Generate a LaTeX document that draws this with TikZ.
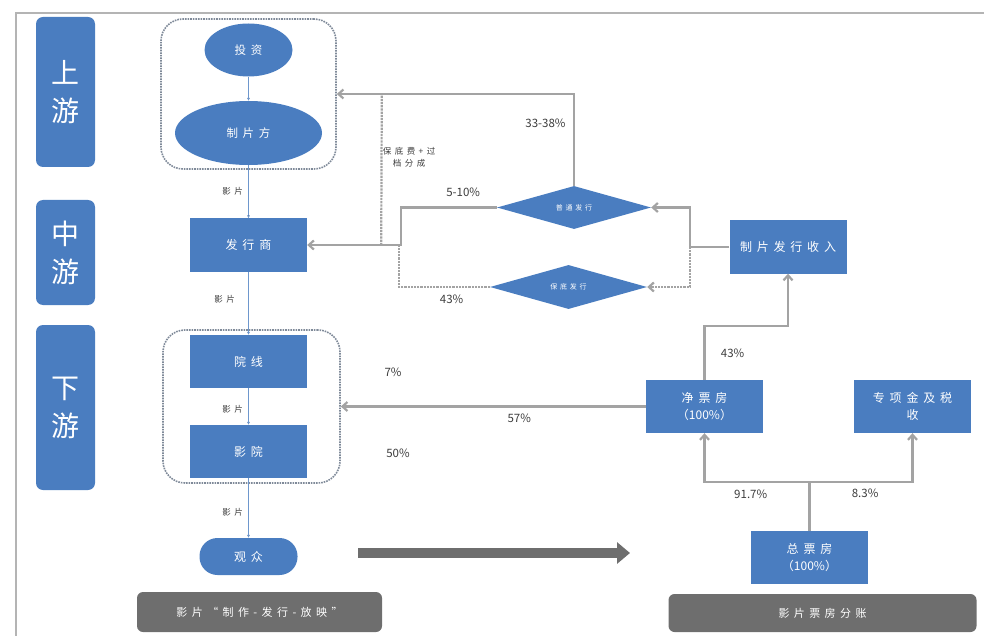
\documentclass[tikz,border=0pt]{standalone}
\usepackage{fontspec}
\setmainfont{Noto Sans CJK SC}
\newfontfamily\spacedfont[LetterSpace=40]{Noto Sans CJK SC}
\usetikzlibrary{arrows.meta,positioning,shapes.geometric}
\definecolor{boxblue}{HTML}{4A7DC0}
\definecolor{linegray}{HTML}{A3A3A3}
\definecolor{bargray}{HTML}{6E6E6E}
\definecolor{framegray}{HTML}{B4B4B4}
\definecolor{groupgray}{HTML}{7F8A99}
\definecolor{labelgray}{HTML}{3C3C3C}
\tikzstyle{stage}=[fill=boxblue, text=white, rounded corners=7pt, minimum width=59pt, align=center, font=\fontsize{28}{38}\selectfont]
\tikzstyle{entity}=[fill=boxblue, text=white, minimum width=117pt, minimum height=53pt, inner sep=0pt, align=center, font=\spacedfont\fontsize{12}{17}\selectfont]
\tikzstyle{oval}=[ellipse, fill=boxblue, text=white, inner sep=0pt, font=\spacedfont\fontsize{11.5}{14}\selectfont]
\tikzstyle{deal}=[diamond, fill=boxblue, text=white, inner sep=0pt, aspect=3.6, font=\spacedfont\fontsize{7}{9}\selectfont]
\tikzstyle{group}=[draw=groupgray, line width=1.6pt, densely dotted, rounded corners=22pt]
\tikzstyle{caption}=[fill=bargray, text=white, rounded corners=6pt, font=\spacedfont\fontsize{11}{14}\selectfont]
\tikzstyle{link}=[draw=linegray, line width=2.2pt]
\tikzstyle{dotlink}=[link, densely dotted]
\tikzstyle{chain}=[draw=boxblue!80, line width=0.8pt, -{Latex[length=3pt,width=3pt]}]
\tikzstyle{tag}=[text=labelgray, font=\spacedfont\fontsize{8.5}{12}\selectfont]
\tikzstyle{share}=[text=labelgray, font=\fontsize{11.5}{13}\selectfont]

\begin{document}
\begin{tikzpicture}[x=1pt,y=1pt,>={Straight Barb[length=5pt,width=9pt]}]
    \useasboundingbox (0,0) rectangle (984,-636);
    \draw[framegray, line width=1.5pt] (16,-636) -- (16,-13) -- (984,-13);

    % stages
    \node [stage, minimum height=150pt] (up) at (65.5,-92) {上\\游};
    \node [stage, minimum height=105pt] (mid) at (65.5,-252.5) {中\\游};
    \node [stage, minimum height=165pt] (down) at (65.5,-407.5) {下\\游};

    % production chain
    \node [group, minimum width=175pt, minimum height=150pt] (upper) at (248.5,-94) {};
    \node [group, minimum width=177pt, minimum height=153pt] (lower) at (251.5,-406.5) {};
    \node [oval, minimum width=88pt, minimum height=53pt] (invest) at (248.5,-50) {投资};
    \node [oval, minimum width=147pt, minimum height=64pt] (producer) [below of=invest, node distance=83pt] {制片方};
    \node [entity] (distributor) [below of=producer, node distance=112pt] {发行商};
    \node [entity] (theaterchain) [below of=distributor, node distance=116.5pt] {院线};
    \node [entity] (cinema) [below of=theaterchain, node distance=90pt] {影院};
    \node [entity, minimum width=98pt, minimum height=37pt, rounded corners=18pt] (audience) [below of=cinema, node distance=105pt] {观众};
    \path[chain]
        (invest) edge (producer)
        (producer) edge node [tag, left, xshift=-2pt] {影片} (distributor)
        (distributor) edge node [tag, left, xshift=-10pt, yshift=4pt] {影片} (theaterchain)
        (theaterchain) edge node [tag, left, xshift=-2pt, yshift=-3pt] {影片} (cinema)
        (cinema) edge node [tag, left, xshift=-2pt, yshift=-4pt] {影片} (audience);

    % box office split
    \node [entity] (income) at (788,-247) {制片发行收入};
    \node [entity] (net) at (704.5,-406.5) {净票房\\（{\normalfont 100\%}）};
    \node [entity] (tax) at (912.5,-406.5) {专项金及税\\收};
    \node [entity] (total) at (809.5,-557.5) {总票房\\（{\normalfont 100\%}）};
    \node [deal, minimum width=154pt, minimum height=43pt] (normal) at (574,-207.5) {普通发行};
    \node [deal, minimum width=157pt, minimum height=44pt] (guarantee) at (568.5,-287) {保底发行};

    \draw[link] (total.north) -- ++(0,49) coordinate (split);
    \draw[link,->] (split) -| node [share, pos=0.28, below=4pt] {91.7\%} (net.south);
    \draw[link,->] (split) -| node [share, pos=0.27, below=3pt] {8.3\%} (tax.south);
    \draw[link,->] (net.north) -- ++(0,54) node [share, midway, right=12pt] {43\%} -| (income.south);
    \draw[link] (income.west) -- ++(-39,0) coordinate (fork);
    \draw[link,->] (fork) |- (normal.east);
    \draw[dotlink,->] (fork) |- (guarantee.east);
    \draw[link,->] (normal.north) |- node [share, pos=0.34, left=4pt] {33-38\%} (upper.east);
    \draw[link,->] (normal.west) -- ++(-96,0) node [share, pos=0.35, above=6pt] {5-10\%} |- (distributor.east);
    \draw[dotlink] (guarantee.west) -- ++(-91,0) node [share, pos=0.42, below=3pt] {43\%} -- ++(0,42);
    \draw[dotlink] ([xshift=74pt]distributor.east) -- node [tag, pos=0.58, anchor=west, xshift=-3pt, align=center] {保底费+过\\档分成} ([xshift=45pt]upper.east);
    \draw[link,->] (net.west) -- node [share, pos=0.415, below=3pt] {57\%} (lower.east);
    \node [share] (cutchain) at (393,-372) {7\%};
    \node [share] (cutcinema) at (398,-453) {50\%};

    % captions
    \coordinate (flowstart) at (358,-553);
    \coordinate (flowend) at (630,-553);
    \draw[bargray, line width=10pt, -{Triangle[length=13pt,width=21pt]}] (flowstart) -- (flowend);
    \node [caption, minimum width=245pt, minimum height=40pt] (chaincap) at (259.5,-612) {影片“制作-发行-放映”};
    \node [caption, minimum width=308pt, minimum height=38pt] (splitcap) at (822.5,-613) {影片票房分账};
\end{tikzpicture}
\end{document}
